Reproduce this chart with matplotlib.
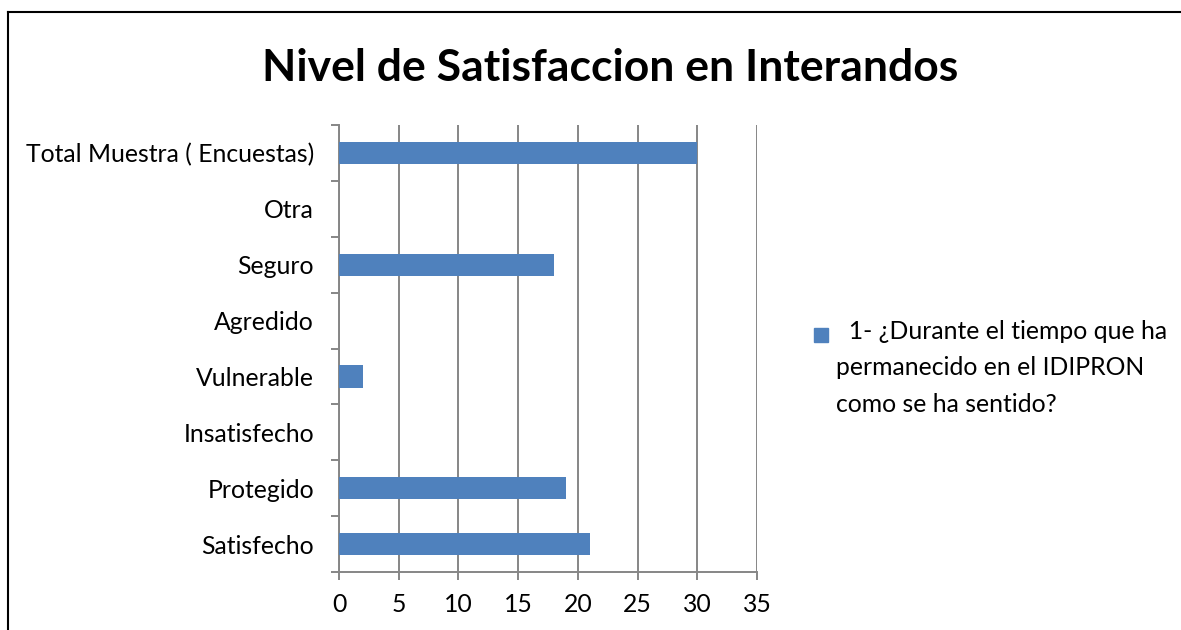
#!/usr/bin/env python3
# -*- coding: utf-8 -*-
"""
Nivel de Satisfaccion en Interandos - horizontal bar chart.
"""
import numpy as np
import matplotlib
matplotlib.use("Agg")
import matplotlib.pyplot as plt
from matplotlib.lines import Line2D
from matplotlib.patches import Rectangle

categorias = ["Satisfecho", "Protegido", "Insatisfecho", "Vulnerable",
              "Agredido", "Seguro", "Otra", "Total Muestra ( Encuestas)"]
valores = [21, 19, 0, 2, 0, 18, 0, 30]
x_ticks = [0, 5, 10, 15, 20, 25, 30, 35]
titulo = "Nivel de Satisfaccion en Interandos"
serie = "1- ¿Durante el tiempo que ha\npermanecido en el IDIPRON\ncomo se ha sentido?"

BAR = "#4F81BD"
GRID = "#868686"
FS = 17.8

plt.rcParams["font.family"] = ["Lato", "DejaVu Sans"]

W, H = 1181, 630
fig = plt.figure(figsize=(W / 100, H / 100), dpi=100)
ax = fig.add_axes([339 / W, 1 - 572 / H, (757 - 339) / W, (572 - 125) / H])

y = np.arange(len(categorias))
ax.barh(y, valores, height=0.4, color=BAR, zorder=3)

ax.set_xlim(0, 35)
ax.set_ylim(-0.5, len(categorias) - 0.5)
ax.set_xticks(x_ticks)
ax.set_xticklabels([str(t) for t in x_ticks])
ax.set_yticks(y)
ax.set_yticklabels(categorias)
ax.set_yticks(np.arange(len(categorias) + 1) - 0.5, minor=True)

ax.grid(axis="x", color=GRID, linewidth=1.4, zorder=0)
for s in ("top", "right"):
    ax.spines[s].set_visible(False)
for s in ("left", "bottom"):
    ax.spines[s].set_color(GRID)
    ax.spines[s].set_linewidth(1.4)

ax.tick_params(axis="x", length=6, width=1.4, color=GRID, pad=9,
               labelsize=FS, labelcolor="black")
ax.tick_params(axis="y", which="major", length=0, pad=18,
               labelsize=FS, labelcolor="black")
ax.tick_params(axis="y", which="minor", length=6, width=1.4, color=GRID)

fig.text(0.5 * (263 + 958) / W, 1 - 68 / H, titulo, ha="center", va="center",
         fontsize=32, fontweight="bold")

# legend
fig.patches.append(Rectangle((814 / W, 1 - 342 / H), 14 / W, 14 / H,
                             transform=fig.transFigure, color=BAR))
fig.text(836 / W, 1 - 320 / H, "  " + serie, ha="left", va="top",
         fontsize=FS, linespacing=1.7)

# chart border
fig.add_artist(Line2D([8 / W, 8 / W], [-0.1, 1 - 12 / H], color="black",
                      linewidth=1.5, transform=fig.transFigure))
fig.add_artist(Line2D([8 / W, 1.1], [1 - 12 / H, 1 - 12 / H], color="black",
                      linewidth=1.5, transform=fig.transFigure))

fig.savefig("out.png", dpi=100)
